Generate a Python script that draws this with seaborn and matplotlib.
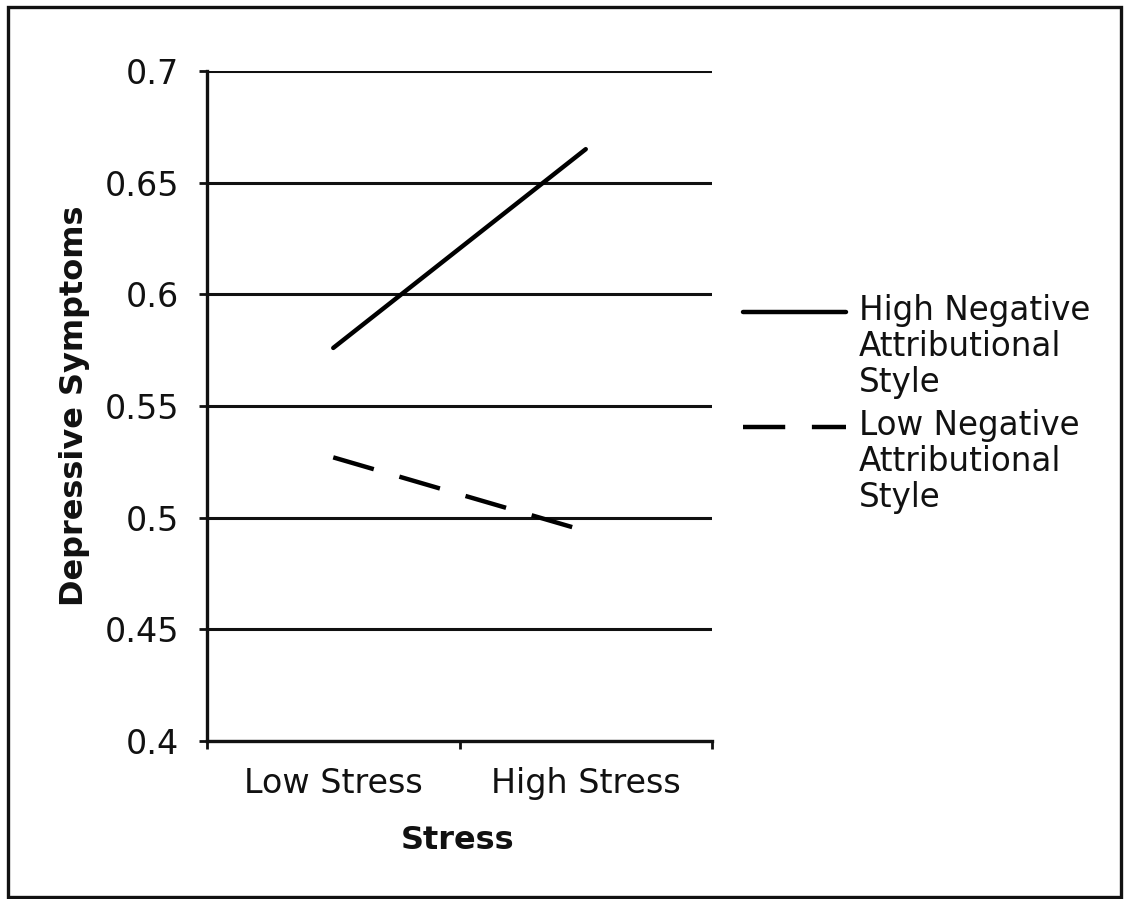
import matplotlib
matplotlib.use("Agg")
import matplotlib.pyplot as plt
import seaborn as sns
import pandas as pd
from matplotlib.patches import Rectangle
from matplotlib.ticker import FixedLocator, FixedFormatter

# ---- data ----
stress_levels = ["Low Stress", "High Stress"]
series_names = ["High Negative\nAttributional\nStyle", "Low Negative\nAttributional\nStyle"]
high_nas = [0.576, 0.665]
low_nas = [0.527, 0.494]
y_ticks = [0.4, 0.45, 0.5, 0.55, 0.6, 0.65, 0.7]
y_tick_labels = ["0.4", "0.45", "0.5", "0.55", "0.6", "0.65", "0.7"]

df = pd.DataFrame({
    "pos": [0, 1, 0, 1],
    "Stress": stress_levels * 2,
    "value": high_nas + low_nas,
    "series": [series_names[0]] * 2 + [series_names[1]] * 2,
})

sns.set_theme(style="white")
plt.rcParams["font.family"] = ["DejaVu Sans"]

INK = "#111111"
fig = plt.figure(figsize=(11.24, 8.99), dpi=100)
ax = fig.add_axes([207 / 1124, 1 - 741 / 899, 505 / 1124, 670 / 899])

sns.lineplot(data=df, x="pos", y="value", style="series", hue="series",
             palette=["black", "black"],
             dashes={series_names[0]: "", series_names[1]: (9.5, 6)},
             linewidth=3.2, ax=ax, legend=True, sort=False)

ax.set_xlim(-0.5, 1.5)
ax.set_ylim(0.4, 0.7)

# y axis
ax.yaxis.set_major_locator(FixedLocator(y_ticks))
ax.yaxis.set_major_formatter(FixedFormatter(y_tick_labels))
ax.tick_params(axis="y", which="major", length=6, width=2, color=INK,
               direction="out", pad=14, labelsize=24, labelcolor=INK, left=True)
ax.yaxis.grid(True, color=INK, linewidth=2.2)
ax.set_axisbelow(True)

# x axis: category labels centered, boundary tick marks
ax.xaxis.set_major_locator(FixedLocator([0, 1]))
ax.xaxis.set_major_formatter(FixedFormatter(stress_levels))
ax.xaxis.set_minor_locator(FixedLocator([-0.5, 0.5, 1.5]))
ax.tick_params(axis="x", which="minor", length=6, width=2, color=INK,
               direction="out", bottom=True)
ax.tick_params(axis="x", which="major", length=0, pad=19, labelsize=24,
               labelcolor=INK, bottom=True)

for side in ["top", "right"]:
    ax.spines[side].set_visible(False)
for side in ["left", "bottom"]:
    ax.spines[side].set_color(INK)
    ax.spines[side].set_linewidth(2.4)

ax.set_xlabel("Stress", fontsize=23, fontweight="bold", color=INK)
ax.set_ylabel("Depressive Symptoms", fontsize=23, fontweight="bold", color=INK)
ax.xaxis.set_label_coords(0.497, -0.125)
ax.yaxis.set_label_coords(-0.232, 0.5)

# legend
handles, labels = ax.get_legend_handles_labels()
leg = ax.legend(handles=handles, labels=labels, loc="upper left",
                bbox_to_anchor=(743 / 1124, 1 - 294 / 899),
                bbox_transform=fig.transFigure, frameon=False, fontsize=23.5,
                handlelength=3.15, handletextpad=0.4, borderpad=0, borderaxespad=0,
                labelspacing=0.3, labelcolor=INK)
for t in leg.get_texts():
    t.set_linespacing(1.12)
# align each handle with the first line of its label
line_step_pt = 26.0
for h in leg.legend_handles:
    yd = [y + line_step_pt for y in h.get_ydata()]
    h.set_ydata(yd)

# figure border
fig.patches.append(Rectangle((8 / 1124, 2 / 899), 1113 / 1124, 890 / 899,
                             transform=fig.transFigure, fill=False,
                             edgecolor=INK, linewidth=2.4))

fig.savefig("out.png", dpi=100, facecolor="white")
